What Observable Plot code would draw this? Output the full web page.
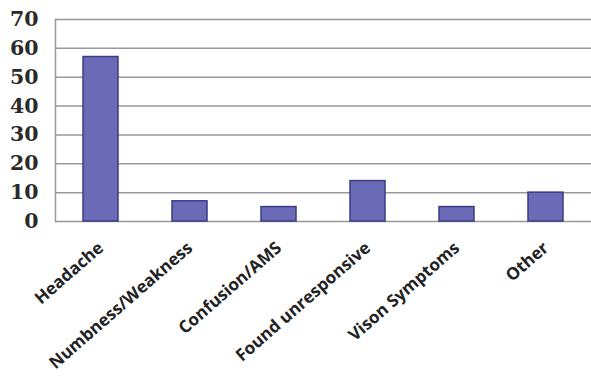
<!DOCTYPE html>
<html>
<head>
<meta charset="utf-8">
<script src="https://cdn.jsdelivr.net/npm/d3@7"></script>
<script src="https://cdn.jsdelivr.net/npm/@observablehq/plot@0.6"></script>
<style>
  html, body { margin: 0; padding: 0; background: #fff; }
</style>
</head>
<body>
<div id="chart"></div>
<script>
const categories = ["Headache", "Numbness/Weakness", "Confusion/AMS", "Found unresponsive", "Vison Symptoms", "Other"];
const counts = [57, 7, 5, 14, 5, 10];
const yTicks = [0, 10, 20, 30, 40, 50, 60, 70];

const data = categories.map((c, i) => ({category: c, value: counts[i]}));

const chart = Plot.plot({
  width: 591,
  height: 378,
  marginLeft: 55,
  marginRight: 0,
  marginTop: 19,
  marginBottom: 157,
  style: {fontFamily: "DejaVu Serif", background: "#fff", color: "#222"},
  x: {domain: categories, paddingInner: 0.61, paddingOuter: 0.305, label: null},
  y: {domain: [0, 70], label: null},
  marks: [
    Plot.ruleY(yTicks, {stroke: "#999", strokeWidth: 1.5}),
    Plot.frame({anchor: "left", stroke: "#999", strokeWidth: 1.5}),
    Plot.barY(data, {x: "category", y: "value", fill: "#6a6ab6", stroke: "#3c3c86", strokeWidth: 1.5}),
    Plot.axisY({ticks: yTicks, tickSize: 0, tickPadding: 17, fontSize: 20.5, fontWeight: "bold", label: null, fill: "#2a2a2a"}),
    Plot.axisX({tickSize: 0, tickRotate: -41, tickPadding: 24, dx: 0, fontSize: 17, fontWeight: "bold", label: null, fill: "#222", fontFamily: "Open Sans"})
  ]
});
document.getElementById("chart").appendChild(chart);
</script>
</body>
</html>
